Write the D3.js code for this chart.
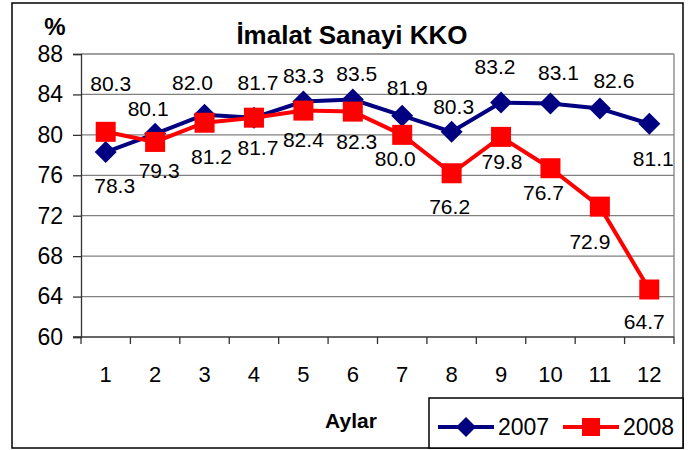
<!DOCTYPE html>
<html><head><meta charset="utf-8">
<script src="https://cdn.jsdelivr.net/npm/d3@7"></script>
<style>body{margin:0;background:#fff}svg{display:block}text{font-family:"Liberation Sans",Arial,sans-serif}</style>
</head><body><div id="chart"></div>
<script>
const months = [1,2,3,4,5,6,7,8,9,10,11,12];
const series2007 = [78.3,80.1,82.0,81.7,83.3,83.5,81.9,80.3,83.2,83.1,82.6,81.1];
const series2008 = [80.3,79.3,81.2,81.7,82.4,82.3,80.0,76.2,79.8,76.7,72.9,64.7];
const yTicks = [60,64,68,72,76,80,84,88];
const seriesNames = ["2007","2008"];
const titleText = "İmalat Sanayi KKO";
const xTitle = "Aylar";
const yTitle = "%";
// label nudges (dx, dy) relative to each point
const lab2007dx = [9,-7,-12,4,0,4,5,2,-6,8,14,4];
const lab2007dy = [33,-25,-32,-35,-26,-26,-28,-25,-36,-31,-28,35];
const lab2008dx = [5,4,7,4,0,4,-7,-2,1,-7,-10,-5];
const lab2008dy = [-48,29,34,30,29,30,24,33,25,24,35,32];

const W=689,H=450;
const m={left:81,right:674,top:54,bottom:337};
const svg=d3.select("#chart").append("svg").attr("width",W).attr("height",H);
svg.append("rect").attr("x",12).attr("y",3).attr("width",671).attr("height",445)
  .attr("fill","#fff").attr("stroke","#000").attr("stroke-width",1.5);

const x=d3.scaleBand().domain(months).range([m.left,m.right]);
const y=d3.scaleLinear().domain([60,88]).range([m.bottom,m.top]);
const cx=d=>x(d)+x.bandwidth()/2;

// gridlines
svg.append("g").selectAll("line").data(yTicks.filter(t=>t>60)).join("line")
  .attr("x1",m.left).attr("x2",m.right).attr("y1",d=>y(d)).attr("y2",d=>y(d))
  .attr("stroke","#808080").attr("stroke-width",1.3);
svg.append("line").attr("x1",m.right).attr("x2",m.right).attr("y1",m.top).attr("y2",m.bottom)
  .attr("stroke","#808080").attr("stroke-width",1.3);

// axes
const yAxis=d3.axisLeft(y).tickValues(yTicks).tickSize(8).tickPadding(10).tickFormat(d3.format("d"));
const gy=svg.append("g").attr("transform",`translate(${m.left},0)`).call(yAxis);
gy.select(".domain").attr("stroke","#333").attr("stroke-width",1.3);
gy.selectAll(".tick line").attr("stroke","#333").attr("stroke-width",1.3);
gy.selectAll(".tick text").attr("font-size",23).attr("fill","#000").style("font-family","'Liberation Sans',Arial");

const xAxis=d3.axisBottom(x).tickSize(0).tickPadding(29);
const gx=svg.append("g").attr("transform",`translate(0,${m.bottom})`).call(xAxis);
gx.select(".domain").remove();
gx.selectAll(".tick text").attr("font-size",22).attr("fill","#000").style("font-family","'Liberation Sans',Arial");
svg.append("line").attr("x1",m.left-8).attr("x2",m.right).attr("y1",m.bottom).attr("y2",m.bottom)
  .attr("stroke","#333").attr("stroke-width",1.3);
const bounds=months.map(d=>x(d)).concat([m.right]);
svg.append("g").selectAll("line").data(bounds).join("line")
  .attr("x1",d=>d).attr("x2",d=>d).attr("y1",m.bottom).attr("y2",m.bottom+7)
  .attr("stroke","#333").attr("stroke-width",1.3);

// titles
svg.append("text").attr("x",352).attr("y",44).attr("text-anchor","middle")
  .attr("font-size",26).attr("font-weight","bold").text(titleText);
svg.append("text").attr("x",55).attr("y",35).attr("text-anchor","middle")
  .attr("font-size",24).attr("font-weight","bold").text(yTitle);
svg.append("text").attr("x",351).attr("y",428).attr("text-anchor","middle")
  .attr("font-size",21).attr("font-weight","bold").text(xTitle);

const colors=["#000080","#ff0000"];
const line=d3.line().x((d,i)=>cx(months[i])).y(d=>y(d));
const diamond=(s)=>`M0,${-s}L${s},0L0,${s}L${-s},0Z`;

function drawSeries(vals,color,shape,dxs,dys){
  svg.append("path").datum(vals).attr("d",line).attr("fill","none")
    .attr("stroke",color).attr("stroke-width",4).attr("stroke-linejoin","round");
  const g=svg.append("g");
  if(shape==="diamond"){
    g.selectAll("path").data(vals).join("path")
      .attr("transform",(d,i)=>`translate(${cx(months[i])},${y(d)})`)
      .attr("d",diamond(11)).attr("fill",color);
  } else {
    g.selectAll("rect").data(vals).join("rect")
      .attr("x",(d,i)=>cx(months[i])-10).attr("y",d=>y(d)-10)
      .attr("width",20).attr("height",20).attr("fill",color);
  }
  return ()=>svg.append("g").selectAll("text").data(vals).join("text")
    .attr("x",(d,i)=>cx(months[i])+dxs[i]).attr("y",(d,i)=>y(d)+dys[i])
    .attr("dy","0.36em").attr("text-anchor","middle").attr("font-size",21).attr("fill","#000")
    .text(d=>d.toFixed(1));
}
const l1=drawSeries(series2007,colors[0],"diamond",lab2007dx,lab2007dy);
const l2=drawSeries(series2008,colors[1],"square",lab2008dx,lab2008dy);
l1();l2();

// legend
const lg=svg.append("g");
lg.append("rect").attr("x",429).attr("y",398).attr("width",254).attr("height",50)
  .attr("fill","#fff").attr("stroke","#000").attr("stroke-width",1.5);
const lx=[438,563];
seriesNames.forEach((n,i)=>{
  const yy=427;
  lg.append("line").attr("x1",lx[i]).attr("x2",lx[i]+56).attr("y1",yy).attr("y2",yy)
    .attr("stroke",colors[i]).attr("stroke-width",4);
  if(i===0) lg.append("path").attr("transform",`translate(${lx[i]+28},${yy})`).attr("d",diamond(10)).attr("fill",colors[i]);
  else lg.append("rect").attr("x",lx[i]+28-9).attr("y",yy-9).attr("width",18).attr("height",18).attr("fill",colors[i]);
  lg.append("text").attr("x",lx[i]+60).attr("y",yy).attr("dy","0.36em").attr("font-size",23).text(n);
});
</script></body></html>
